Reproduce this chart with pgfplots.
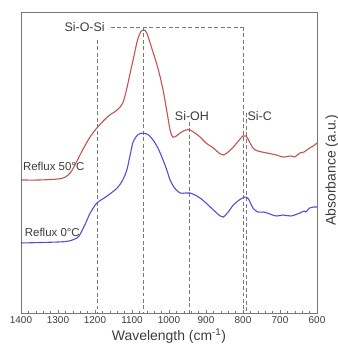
\documentclass[border=0pt]{standalone}
\usepackage{fontspec}
\setmainfont{Liberation Sans}
\usepackage{pgfplots}
\pgfplotsset{compat=1.18}
\definecolor{redc}{RGB}{196,82,82}
\definecolor{bluec}{RGB}{80,80,215}
\definecolor{txt}{RGB}{60,60,60}
\definecolor{axc}{RGB}{120,120,120}
\begin{document}
\begin{tikzpicture}
\useasboundingbox (-21bp,-45bp) rectangle (317bp,313bp);
\begin{axis}[
  scale only axis, width=296bp, height=301bp,
  x dir=reverse, xmin=600, xmax=1400, ymin=45, ymax=346,
  xtick={600,700,...,1400}, minor x tick num=4,
  ytick=\empty,
  xtick pos=bottom, tick align=inside,
  major tick length=3bp, minor tick length=2bp,
  axis line style={axc, line width=0.7pt}, every tick/.style={axc},
  tick label style={font=\fontsize{10}{12}\selectfont, text=txt},
  /pgf/number format/assume math mode=true,
  /pgf/number format/1000 sep={},
  xlabel={Wavelength (cm\textsuperscript{-1})},
  xlabel style={font=\fontsize{14}{16}\selectfont, text=txt, yshift=2bp},
  clip=false,
  guide/.style={axc, line width=0.6pt, dash pattern=on 4pt off 2.5pt},
]
% dashed guides
\addplot[guide] coordinates {(1195,318) (1195,45)};
\addplot[guide] coordinates {(1070,331) (1070,45)};
\addplot[guide] coordinates {(946,236) (946,45)};
\addplot[guide] coordinates {(800,331) (800,45)};
\addplot[guide] coordinates {(790,245) (790,45)};
\addplot[guide] coordinates {(1158,331) (800,331)};
% red
\addplot[redc, line width=1.1pt, smooth] coordinates {
(1400,178) (1350,178) (1300,179) (1280,181) (1265,186) (1250,196) (1235,207)
(1215,220) (1195,230) (1175,238) (1160,243) (1140,248) (1125,255) (1115,268)
(1105,285) (1097,298) (1085,318) (1075,327) (1068,328) (1060,325) (1045,308)
(1030,290) (1016,268) (1005,245) (997,228) (990,221) (980,222) (970,225)
(955,228) (943,228) (930,225) (916,221) (900,215) (880,210) (865,205)
(853,203) (840,206) (826,211) (810,218) (800,222) (792,222) (785,218)
(773,210) (760,207) (735,205) (710,203) (692,201) (670,202) (660,201) (646,205)
(635,206) (620,210) (610,212) (600,215)};
% blue
\addplot[bluec, line width=1.1pt, smooth] coordinates {
(1400,115) (1300,116) (1270,117) (1255,119) (1243,122) (1225,135) (1213,145)
(1195,155) (1175,160) (1160,164) (1140,170) (1125,178) (1114,188) (1105,203)
(1097,216) (1085,223) (1070,225) (1055,223) (1043,218) (1030,210) (1016,198)
(1005,187) (997,178) (985,170) (970,165) (955,165) (943,165) (930,163)
(916,160) (900,155) (880,148) (865,143) (853,141) (840,146) (826,153)
(810,158) (795,161) (785,159) (773,150) (760,146) (745,146) (735,145)
(710,142) (692,143) (670,142) (646,145) (635,147) (630,146) (620,150) (610,151) (600,151)};
% labels
\node[text=txt, font=\fontsize{12.5}{14}\selectfont] at (axis cs:1228,331) {Si-O-Si};
\node[text=txt, font=\fontsize{12.5}{14}\selectfont] at (axis cs:938,242) {Si-OH};
\node[text=txt, font=\fontsize{12.5}{14}\selectfont] at (axis cs:755,242) {Si-C};
\node[text=txt, font=\fontsize{11.5}{13}\selectfont, anchor=west, inner sep=0pt] at (axis cs:1395,192) {Reflux 50°C};
\node[text=txt, font=\fontsize{11.5}{13}\selectfont, anchor=west, inner sep=0pt] at (axis cs:1390,126) {Reflux 0°C};
\node[text=txt, font=\fontsize{14}{16}\selectfont, rotate=90, anchor=north] at ([xshift=5bp]rel axis cs:1,0.475) {Absorbance (a.u.)};
\end{axis}
\end{tikzpicture}
\end{document}
